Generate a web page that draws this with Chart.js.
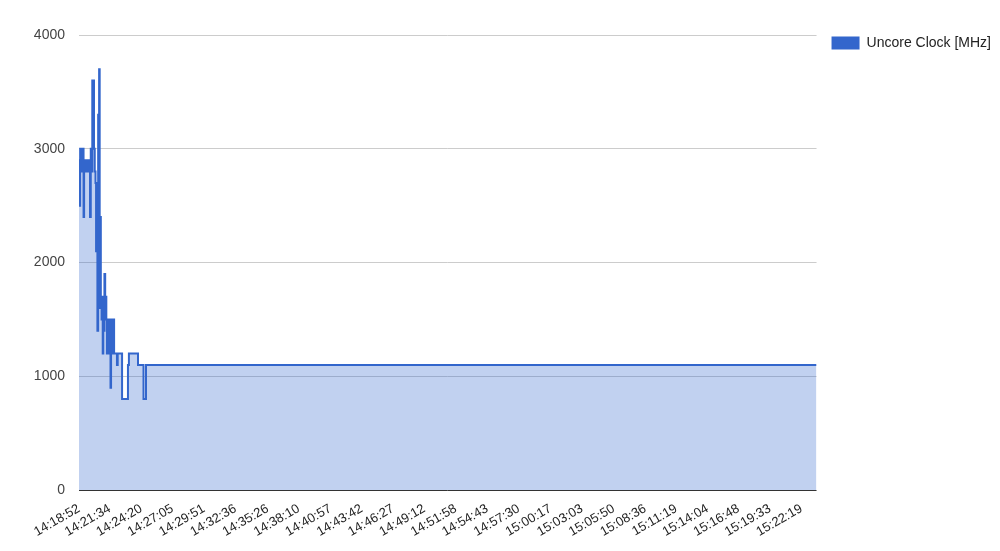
<!DOCTYPE html>
<html>
<head>
<meta charset="utf-8">
<script src="https://cdn.jsdelivr.net/npm/chart.js@4.4.1/dist/chart.umd.min.js"></script>
<style>
  html, body { margin: 0; padding: 0; background: #fff; }
  #wrap { width: 1000px; height: 551px; position: relative; }
</style>
</head>
<body>
<div id="wrap"><canvas id="uncoreChart"></canvas></div>
<script>
// Seconds since 14:18:52 at which the clock changed, and the value it changed to
const elapsedSec = [
    0, 3, 6, 9, 13, 16, 20, 24, 27, 31, 34, 37, 41, 45, 48, 52, 55, 58, 62, 66,
    70, 79, 83, 87, 90, 94, 97, 101, 103, 106, 109, 112, 115, 119, 122, 125, 128, 131, 134, 138,
    141, 144, 147, 150, 153, 157, 160, 163, 166, 169, 172, 175, 179, 182, 185, 200, 204, 227, 258, 263,
    311, 340, 353, 3887
];
const clockMHz = [
    2900, 2500, 3000, 2800, 3000, 2800, 3000, 2400, 2800, 2900, 2800, 2900, 2800, 2900, 2800, 2900, 2800, 2400, 3000, 2800,
    3600, 3000, 2800, 2700, 2100, 2700, 1400, 3300, 2400, 3700, 1600, 2400, 1700, 1500, 1700, 1200, 1600, 1400, 1900, 1500,
    1700, 1500, 1200, 1500, 1200, 1500, 1200, 1500, 900, 1500, 1200, 1500, 1200, 1500, 1200, 1100, 1200, 800, 1100, 1200,
    1100, 800, 1100, 1100
];
const tickLabels = [
    '14:18:52', '14:21:34', '14:24:20', '14:27:05', '14:29:51', '14:32:36', '14:35:26', '14:38:10',
    '14:40:57', '14:43:42', '14:46:27', '14:49:12', '14:51:58', '14:54:43', '14:57:30', '15:00:17',
    '15:03:03', '15:05:50', '15:08:36', '15:11:19', '15:14:04', '15:16:48', '15:19:33', '15:22:19'
];
const yTicks = [0, 1000, 2000, 3000, 4000];
const seriesName = 'Uncore Clock [MHz]';

function toSec(t) {
    const p = t.split(':').map(Number);
    return p[0] * 3600 + p[1] * 60 + p[2];
}
const startSec = toSec(tickLabels[0]);
const tickSecs = tickLabels.map(t => toSec(t) - startSec);

const points = elapsedSec.map((s, i) => ({ x: s, y: clockMHz[i] }));

// push the legend a bit away from the plot, like the original
const legendGap = {
    id: 'legendGap',
    afterLayout(chart) {
        const lg = chart.legend;
        if (!lg) return;
        lg.left += 14;
        lg.right += 14;
    }
};

const ctx = document.getElementById('uncoreChart');
new Chart(ctx, {
    type: 'line',
    data: {
        datasets: [{
            label: seriesName,
            data: points,
            stepped: true,
            borderColor: '#3366cc',
            backgroundColor: 'rgba(51,102,204,0.3)',
            borderWidth: 2,
            pointRadius: 0,
            fill: 'origin'
        }]
    },
    options: {
        responsive: true,
        maintainAspectRatio: false,
        animation: false,
        layout: { padding: { left: 0, right: 13, top: 35, bottom: 0 } },
        plugins: {
            legend: {
                position: 'right',
                align: 'start',
                labels: {
                    boxWidth: 28,
                    boxHeight: 13,
                    padding: 1,
                    color: '#222',
                    font: { family: 'Liberation Sans, Arial', size: 14 },
                    generateLabels: c => {
                        const items = Chart.defaults.plugins.legend.labels.generateLabels(c);
                        items.forEach(it => { it.fillStyle = '#3366cc'; it.lineWidth = 0; });
                        return items;
                    }
                }
            },
            tooltip: { enabled: false }
        },
        scales: {
            x: {
                type: 'linear',
                min: 0,
                max: elapsedSec[elapsedSec.length - 1],
                afterBuildTicks: s => { s.ticks = tickSecs.map(v => ({ value: v })); },
                afterFit: s => { s.height = 61; },
                grid: { display: false },
                border: { display: false },
                ticks: {
                    autoSkip: false,
                    minRotation: 30,
                    maxRotation: 30,
                    color: '#222',
                    font: { family: 'Liberation Sans, Arial', size: 13 },
                    callback: (v, i) => tickLabels[i]
                }
            },
            y: {
                min: yTicks[0],
                max: yTicks[yTicks.length - 1],
                afterBuildTicks: s => { s.ticks = yTicks.map(v => ({ value: v })); },
                afterFit: s => { s.width = 79; },
                grid: {
                    color: c => c.tick && c.tick.value === 0 ? '#333' : '#ccc',
                    drawTicks: false
                },
                border: { display: false },
                ticks: {
                    padding: 14,
                    color: '#444',
                    font: { family: 'Liberation Sans, Arial', size: 14 },
                    callback: v => String(v)
                }
            }
        }
    },
    plugins: [legendGap]
});
</script>
</body>
</html>
